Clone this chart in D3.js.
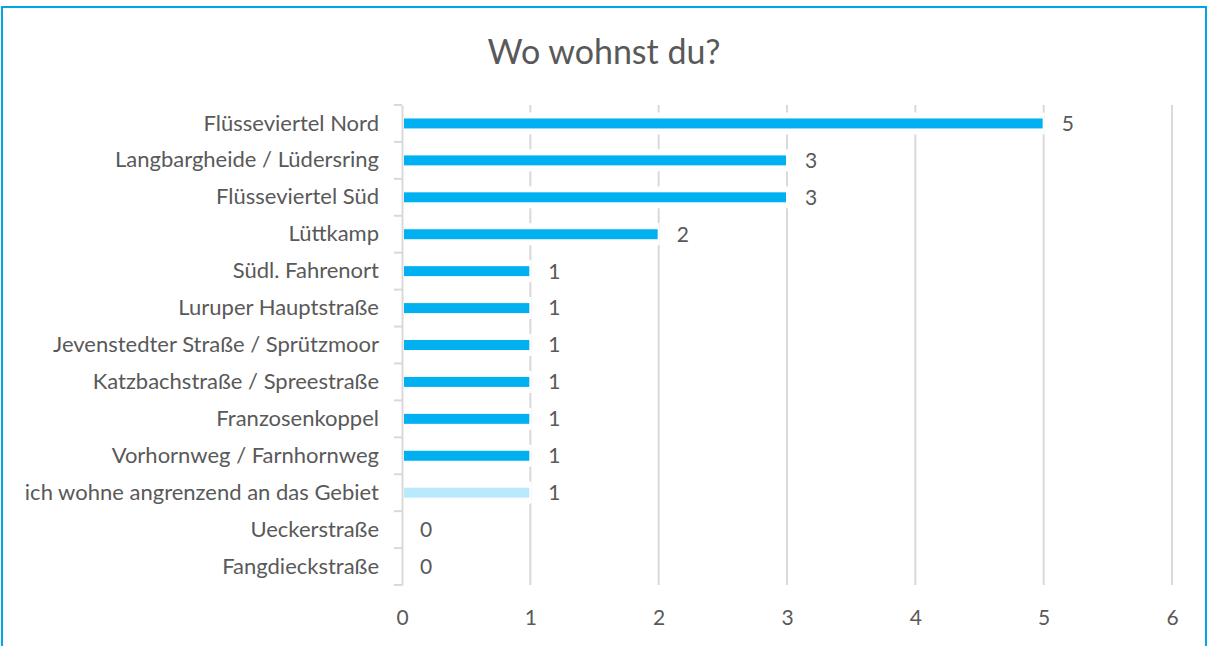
<!DOCTYPE html>
<html><head><meta charset="utf-8">
<script src="https://cdn.jsdelivr.net/npm/d3@7"></script>
<style>
html,body{margin:0;padding:0;background:#fff;}
svg{display:block;}
text{font-family:Lato,"Open Sans",sans-serif;fill:#595959;}
</style></head>
<body>
<svg id="chart" width="1208" height="646"></svg>
<script>
const categories = ["Flüsseviertel Nord","Langbargheide / Lüdersring","Flüsseviertel Süd","Lüttkamp","Südl. Fahrenort","Luruper Hauptstraße","Jevenstedter Straße / Sprützmoor","Katzbachstraße / Spreestraße","Franzosenkoppel","Vorhornweg / Farnhornweg","ich wohne angrenzend an das Gebiet","Ueckerstraße","Fangdieckstraße"];
const values = [5,3,3,2,1,1,1,1,1,1,1,0,0];
const highlight = [false,false,false,false,false,false,false,false,false,false,true,false,false];
const xTicks = [0,1,2,3,4,5,6];
const title = "Wo wohnst du?";

const svg = d3.select("#chart");
const W = 1208, H = 646;
const FONT = "Lato, 'Open Sans', sans-serif";
svg.append("rect").attr("x",2).attr("y",7).attr("width",1204).attr("height",646)
  .attr("fill","#fff").attr("stroke","#00A6E8").attr("stroke-width",2);

const x0 = 402, x1 = 1172, yTop = 105, yBot = 585;
const x = d3.scaleLinear().domain([0,6]).range([x0,x1]);
const y = d3.scaleBand().domain(categories).range([yTop,yBot]).paddingInner(0.73).paddingOuter(0.365);

svg.append("text").attr("x",W/2).attr("y",64).attr("text-anchor","middle")
  .attr("font-size",34).text(title);

// gridlines
svg.append("g").selectAll("line").data(xTicks.filter(d=>d>0)).join("line")
  .attr("x1",d=>x(d)).attr("x2",d=>x(d)).attr("y1",yTop).attr("y2",yBot)
  .attr("stroke","#d9d9d9").attr("stroke-width",2);

// white halos behind bars
const rows = categories.map((c,i)=>({c,v:values[i],h:highlight[i]}));
svg.append("g").selectAll("rect").data(rows.filter(d=>d.v>0)).join("rect")
  .attr("x",x(0)+2).attr("y",d=>y(d.c)-6).attr("width",d=>x(d.v)-x(0)-1).attr("height",y.bandwidth()+12)
  .attr("fill","#fff");

svg.append("g").selectAll("rect").data(rows).join("rect")
  .attr("x",x(0)+2).attr("y",d=>y(d.c)).attr("width",d=>Math.max(0,x(d.v)-x(0)-3)).attr("height",y.bandwidth())
  .attr("fill",d=>d.h?"#B8EAFB":"#00B0F0");

// y axis
const yAxis = d3.axisLeft(y).tickSize(0).tickPadding(23);
const gy = svg.append("g").attr("transform",`translate(${x0},0)`).call(yAxis);
gy.select(".domain").attr("stroke","#d9d9d9").attr("stroke-width",2);
gy.selectAll("text").attr("font-size",22).attr("fill","#595959").attr("font-family",FONT);
// category separator ticks
svg.append("g").selectAll("line").data([yTop].concat(categories.slice(1).map(c=>y(c)-(y.step()-y.bandwidth())/2)).concat([yBot])).join("line")
  .attr("x1",x0-8).attr("x2",x0).attr("y1",d=>d).attr("y2",d=>d)
  .attr("stroke","#d9d9d9").attr("stroke-width",2);

// x axis labels
const xAxis = d3.axisBottom(x).tickValues(xTicks).tickSize(0).tickPadding(0).tickFormat(d3.format("d"));
const gx = svg.append("g").attr("transform",`translate(0,${yBot+25})`).call(xAxis);
gx.select(".domain").remove();
gx.selectAll("text").attr("font-size",21).attr("fill","#595959").attr("font-family",FONT);

// value labels
svg.append("g").selectAll("text").data(rows).join("text")
  .attr("x",d=>x(d.v)+18).attr("y",d=>y(d.c)+y.bandwidth()/2).attr("dy","0.35em")
  .attr("font-size",21).text(d=>d.v);
</script>
</body></html>
